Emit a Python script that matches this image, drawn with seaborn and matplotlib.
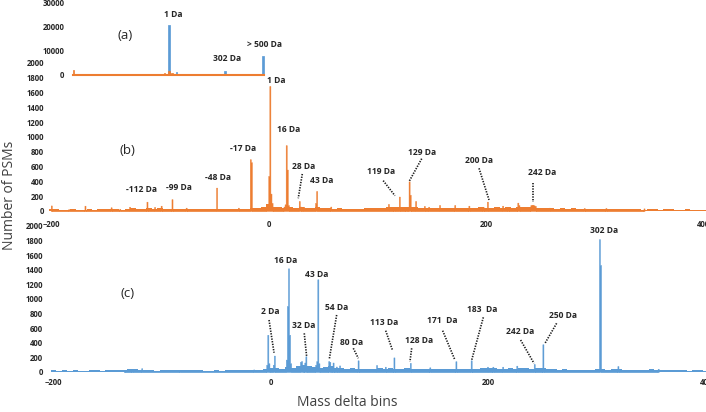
import matplotlib
matplotlib.use("Agg")
import matplotlib.pyplot as plt
import seaborn as sns

ORANGE = "#ED7D31"
BLUE = "#5B9BD5"
TEXT = "#262626"

# ---- (a) overview, -500 .. >500 Da ----
a_blue_pos = [1, 43, 302, 500]
a_blue_cnt = [20800, 1300, 1800, 7900]
a_orange_pos = [-500, -17, 1, 16]
a_orange_cnt = [2200, 700, 1680, 890]

# ---- background level in 5 Da steps, -200 .. 400 ----
bg_pos = list(range(-200, 401, 5))
b_bg = [30, 22, 18, 20, 28, 18, 20, 25, 18, 22,
        25, 30, 22, 20, 25, 35, 30, 28, 40, 30,
        38, 30, 32, 28, 25, 30, 28, 25, 30, 28,
        32, 28, 30, 25, 28, 30, 32, 35, 40, 60,
        100, 60, 50, 40, 55, 45, 60, 45, 40, 50,
        40, 35, 30, 35, 30, 28, 25, 30, 35, 40,
        35, 45, 50, 55, 60, 50, 55, 50, 45, 40,
        45, 40, 45, 35, 40, 45, 38, 40, 45, 50,
        45, 40, 50, 45, 55, 45, 50, 55, 60, 45,
        40, 35, 40, 30, 35, 30, 35, 28, 30, 25,
        28, 30, 25, 28, 22, 25, 28, 22, 25, 20,
        22, 25, 20, 22, 25, 20, 18, 22, 20, 18,
        20]
c_bg = [22, 18, 24, 20, 25, 20, 18, 22, 24, 20,
        22, 25, 26, 30, 38, 45, 30, 25, 22, 20,
        22, 25, 28, 24, 22, 24, 26, 22, 20, 18,
        22, 20, 24, 22, 25, 26, 22, 28, 25, 35,
        60, 50, 40, 70, 60, 80, 100, 80, 70, 60,
        70, 80, 60, 50, 45, 50, 40, 35, 40, 45,
        50, 45, 55, 40, 45, 50, 45, 40, 35, 40,
        35, 40, 35, 40, 45, 40, 35, 40, 45, 50,
        55, 50, 45, 40, 50, 45, 55, 50, 45, 60,
        55, 40, 35, 30, 35, 28, 30, 25, 28, 30,
        40, 35, 30, 40, 35, 30, 28, 25, 28, 30,
        35, 28, 25, 22, 28, 25, 22, 20, 25, 22,
        20]

# ---- (b) peaks, 1 Da bins ----
b_pos = [-200, -184, -169, -145, -137, -128, -112, -105, -99, -89, -76, -48, -28,
         -17, -16, -2, -1, 0, 1, 2, 3, 14, 15, 16, 17, 18, 28, 29, 32, 43, 44, 57,
         110, 115, 120, 126, 129, 130, 135, 143, 147, 157, 171, 184, 197, 201, 215,
         220, 229, 230, 241, 242, 243, 244, 245, 258, 290, 310, 345]
b_cnt = [75, 25, 72, 50, 30, 58, 126, 55, 72, 160, 45, 316, 45,
         700, 660, 85, 95, 475, 1690, 235, 110, 60, 90, 890, 560, 80, 135, 60, 58, 110, 270, 60,
         95, 50, 195, 50, 400, 220, 135, 68, 58, 81, 81, 72, 58, 126, 72,
         54, 113, 80, 80, 85, 85, 75, 70, 45, 40, 40, 35]

# ---- (c) peaks, 1 Da bins ----
c_pos = [-135, -128, -119, -84, -16, -4, -3, -2, 2, 3, 14, 15, 16, 17, 18, 27, 28, 29,
         31, 32, 41, 42, 43, 44, 53, 54, 57, 60, 63, 80, 97, 105, 113, 128, 146, 170,
         184, 199, 204, 213, 226, 242, 250, 302, 303, 319, 356]
c_cnt = [30, 45, 52, 28, 35, 100, 510, 120, 100, 225, 170, 905, 1420, 510, 120, 140, 150, 100,
         130, 215, 100, 150, 1270, 120, 150, 140, 130, 75, 90, 160, 96, 73, 200, 125, 64, 148,
         160, 73, 73, 73, 87, 110, 380, 1820, 1466, 82, 45]

# ---- labels: (text, x, y) and dotted leaders (x1, y1, x2, y2) ----
a_labels = [("1 Da", 26, 25400), ("302 Da", 310, 6960), ("> 500 Da", 509, 12500)]
b_labels = [("1 Da", 7.3, 1757), ("16 Da", 18.5, 1095), ("28 Da", 31.9, 595),
            ("43 Da", 48.9, 410), ("-17 Da", -23.3, 838), ("-48 Da", -46.7, 446),
            ("-99 Da", -82.6, 324), ("-112 Da", -116.6, 297), ("119 Da", 103.2, 540),
            ("129 Da", 140.9, 797), ("200 Da", 193.3, 676), ("242 Da", 250.9, 514)]
b_leaders = [(30.8, 500, 27.1, 172), (105.2, 410, 116, 207), (140.6, 707, 128.9, 396),
             (193.3, 577, 202.5, 149), (242.6, 374, 242.6, 126)]
c_labels = [("2 Da", -1, 826), ("16 Da", 13.7, 1534), ("43 Da", 42.2, 1342),
            ("32 Da", 30, 634), ("54 Da", 60, 886), ("80 Da", 73.8, 401),
            ("113 Da", 104.1, 675), ("128 Da", 136, 429), ("171  Da", 157.8, 712),
            ("183  Da", 194.3, 858), ("242 Da", 229.2, 552), ("250 Da", 268.1, 767),
            ("302 Da", 306, 1936)]
c_leaders = [(-1.9, 712, 2.7, 264), (30.5, 530, 32.7, 210), (60.3, 781, 53.5, 174),
             (75.6, 325, 80.2, 188), (105.4, 566, 111.8, 292), (129.3, 325, 127.7, 141),
             (157.8, 566, 169.1, 164), (195.2, 749, 184.5, 164), (229.5, 438, 241.8, 119),
             (262.6, 667, 251.9, 393)]

sns.set_theme(style="white")
plt.rcParams["font.family"] = ["Open Sans", "DejaVu Sans"]

fig = plt.figure(figsize=(7.06, 4.12), dpi=100)
ax_c = fig.add_axes([0.0652, 0.0971, 0.9348, 0.3544])
ax_b = fig.add_axes([0.0680, 0.4879, 0.9320, 0.3592])
ax_a = fig.add_axes([0.1028, 0.8180, 0.2711, 0.1748])


def spectrum(ax, bg, pos, cnt, color):
    sns.histplot(x=bg_pos, weights=bg, binwidth=5, binrange=(-202.5, 402.5),
                 element="step", fill=True, color=color, alpha=1, linewidth=0, ax=ax)
    sns.histplot(x=pos, weights=cnt, discrete=True, element="step", fill=True,
                 color=color, alpha=1, linewidth=0.3, ax=ax)


spectrum(ax_b, b_bg, b_pos, b_cnt, ORANGE)
spectrum(ax_c, c_bg, c_pos, c_cnt, BLUE)

sns.histplot(x=a_blue_pos, weights=a_blue_cnt, binwidth=8, binrange=(-504, 504),
             element="step", fill=True, color=BLUE, alpha=1, linewidth=0.5, ax=ax_a)
sns.histplot(x=a_orange_pos, weights=a_orange_cnt, binwidth=8, binrange=(-504, 504),
             element="step", fill=True, color=ORANGE, alpha=1, linewidth=0.5, ax=ax_a)

ax_b.set_xlim(-203, 402)
ax_c.set_xlim(-207, 400)
ax_a.set_xlim(-504, 504)
for ax in (ax_b, ax_c):
    ax.set_ylim(0, 2000)
    ax.set_yticks(range(0, 2001, 200))
    ax.set_xticks([-200, 0, 200, 400])
ax_a.set_ylim(0, 30000)
ax_a.set_yticks([0, 10000, 20000, 30000])
ax_a.set_xticks([])

for ax in (ax_a, ax_b, ax_c):
    ax.set_facecolor("none")
    ax.set_xlabel("")
    ax.set_ylabel("")
    sns.despine(ax=ax, left=True, bottom=True)
    ax.tick_params(length=0, labelsize=5.6, colors=TEXT)
    for t in ax.get_xticklabels() + ax.get_yticklabels():
        t.set_fontweight("bold")

ax_b.tick_params(axis="y", pad=2.9)
ax_b.tick_params(axis="x", pad=6.2)
ax_c.tick_params(axis="y", pad=2.2)
ax_c.tick_params(axis="x", pad=4.3)
ax_a.tick_params(axis="y", pad=6)
ax_a.spines["bottom"].set_visible(True)
ax_a.spines["bottom"].set_color(ORANGE)
ax_a.spines["bottom"].set_linewidth(1.5)

for ax, labels in ((ax_a, a_labels), (ax_b, b_labels), (ax_c, c_labels)):
    for txt, x, y in labels:
        ax.text(x, y, txt, ha="center", va="center", fontsize=6.1,
                fontweight="bold", color=TEXT, clip_on=False)

for ax, leaders in ((ax_b, b_leaders), (ax_c, c_leaders)):
    for x1, y1, x2, y2 in leaders:
        ax.plot([x1, x2], [y1, y2], color="#1a1a1a", lw=1.2,
                linestyle=(0, (0.8, 0.8)), clip_on=False)

ax_a.text(-226, 16250, "(a)", ha="center", va="center", fontsize=9.5, color=TEXT)
ax_b.text(-130, 824, "(b)", ha="center", va="center", fontsize=9.5, color=TEXT)
ax_c.text(-132, 1078, "(c)", ha="center", va="center", fontsize=9.5, color=TEXT)

fig.text(10 / 706, 1 - 195 / 412, "Number of PSMs", rotation=90,
         ha="center", va="center", fontsize=10, color="#404040")
fig.text(347 / 706, 1 - 403 / 412, "Mass delta bins",
         ha="center", va="center", fontsize=10, color="#404040")

fig.savefig("out.png", dpi=100, facecolor="white")
